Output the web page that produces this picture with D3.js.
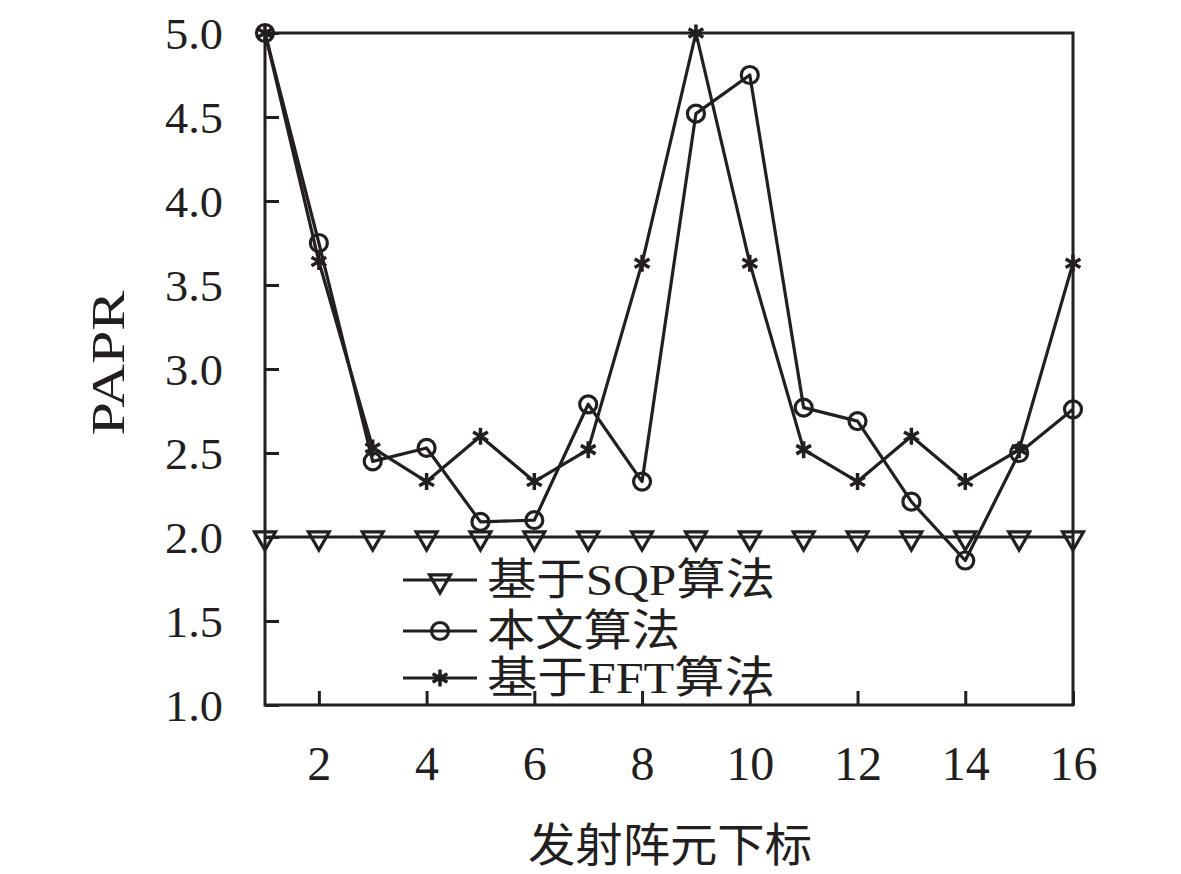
<!DOCTYPE html>
<html><head><meta charset="utf-8">
<script src="https://cdn.jsdelivr.net/npm/d3@7/dist/d3.min.js"></script>
<style>
html,body{margin:0;padding:0;background:#fff;}
text{font-family:"Liberation Serif","DejaVu Serif","Noto Sans CJK SC",serif;fill:#231f20;}
</style></head>
<body>
<svg id="chart" width="1181" height="874"></svg>
<script>
const xIndex = d3.range(1, 17);
const sqpValues = [2.0,2.0,2.0,2.0,2.0,2.0,2.0,2.0,2.0,2.0,2.0,2.0,2.0,2.0,2.0,2.0];
const oursValues = [5.0,3.75,2.45,2.53,2.09,2.10,2.79,2.33,4.52,4.75,2.77,2.69,2.21,1.86,2.50,2.76];
const fftValues = [5.0,3.64,2.53,2.33,2.60,2.33,2.52,3.63,5.0,3.63,2.52,2.33,2.60,2.33,2.52,3.63];
const yTicks = [1.0,1.5,2.0,2.5,3.0,3.5,4.0,4.5,5.0];
const xTicks = [2,4,6,8,10,12,14,16];
const seriesNames = ["基于SQP算法","本文算法","基于FFT算法"];
const xTitle = "发射阵元下标";
const yTitle = "PAPR";

const ink = "#231f20";
const svg = d3.select("#chart");
const L = 265, R = 1073, T = 33, B = 705;
const x = d3.scaleLinear().domain([1,16]).range([L,R]);
const y = d3.scaleLinear().domain([1,5]).range([B,T]);

// frame
svg.append("rect").attr("x",L).attr("y",T).attr("width",R-L).attr("height",B-T)
  .attr("fill","none").attr("stroke",ink).attr("stroke-width",3);

// y axis (ticks inward)
const yAxis = d3.axisLeft(y).tickValues(yTicks).tickFormat(d3.format(".1f")).tickSize(-14).tickPadding(40);
const gy = svg.append("g").attr("transform",`translate(${L},0)`).call(yAxis);
gy.select(".domain").remove();
gy.selectAll(".tick line").attr("stroke",ink).attr("stroke-width",3);
gy.selectAll(".tick text").attr("font-size",45).attr("fill",ink).attr("x",-42)
  .attr("dy",null).attr("dominant-baseline","central")
  .attr("textLength",58).attr("lengthAdjust","spacingAndGlyphs")
  .attr("font-family","'Liberation Serif','DejaVu Serif',serif");

// x axis
const xAxis = d3.axisBottom(x).tickValues(xTicks).tickFormat(d3.format("d")).tickSize(-14).tickPadding(0);
const gx = svg.append("g").attr("transform",`translate(0,${B})`).call(xAxis);
gx.select(".domain").remove();
gx.selectAll(".tick line").attr("stroke",ink).attr("stroke-width",3);
gx.selectAll(".tick text").attr("font-size",48).attr("fill",ink).attr("dy",null).attr("y",58)
  .attr("dominant-baseline","central")
  .attr("font-family","'Liberation Serif','DejaVu Serif',serif");

// titles
svg.append("text").attr("x",670).attr("y",845).attr("text-anchor","middle")
  .attr("dominant-baseline","central").attr("font-size",46)
  .attr("textLength",284).attr("lengthAdjust","spacingAndGlyphs")
  .attr("font-family","'Noto Sans CJK SC',sans-serif").text(xTitle);
svg.append("text").attr("transform","translate(108,363) rotate(-90)")
  .attr("text-anchor","middle").attr("dominant-baseline","central").attr("font-size",46)
  .attr("textLength",145).attr("lengthAdjust","spacingAndGlyphs")
  .attr("font-family","'Liberation Serif','DejaVu Serif',serif").text(yTitle);

const line = d3.line().x((d,i)=>x(xIndex[i])).y(d=>y(d));

// marker functions
function triangle(g, cx, cy){
  g.append("path").attr("d", d3.symbol(d3.symbolTriangle, 190)())
    .attr("transform",`translate(${cx},${cy+1}) rotate(180)`)
    .attr("fill","none").attr("stroke",ink).attr("stroke-width",3.2);
}
function circle(g, cx, cy){
  g.append("circle").attr("cx",cx).attr("cy",cy).attr("r",8.5)
    .attr("fill","none").attr("stroke",ink).attr("stroke-width",3.2);
}
function star(g, cx, cy){
  const r = 8.5;
  const p = d3.path();
  p.moveTo(cx, cy-r); p.lineTo(cx, cy+r);
  const dx = r*Math.cos(Math.PI/6), dy = r*Math.sin(Math.PI/6);
  p.moveTo(cx-dx, cy-dy); p.lineTo(cx+dx, cy+dy);
  p.moveTo(cx-dx, cy+dy); p.lineTo(cx+dx, cy-dy);
  g.append("path").attr("d",p.toString()).attr("fill","none").attr("stroke",ink).attr("stroke-width",3.5);
}

const series = [
  {vals:sqpValues, mk:triangle},
  {vals:oursValues, mk:circle},
  {vals:fftValues, mk:star}
];
series.forEach(s=>{
  const g = svg.append("g");
  g.append("path").attr("d",line(s.vals)).attr("fill","none").attr("stroke",ink)
    .attr("stroke-width",3.2).attr("stroke-linejoin","round");
  s.vals.forEach((v,i)=>s.mk(g, x(xIndex[i]), y(v)));
});

// legend
const legY = [580, 631, 678];
const legLen = [288, 193, 288];
series.forEach((s,i)=>{
  const g = svg.append("g");
  g.append("line").attr("x1",403).attr("x2",477).attr("y1",legY[i]).attr("y2",legY[i])
    .attr("stroke",ink).attr("stroke-width",3.2);
  s.mk(g, 440, legY[i]);
  g.append("text").attr("x",487).attr("y",legY[i]).attr("dominant-baseline","central")
    .attr("font-size",44).attr("textLength",legLen[i]).attr("lengthAdjust","spacingAndGlyphs")
    .text(seriesNames[i]);
});
</script>
</body></html>
